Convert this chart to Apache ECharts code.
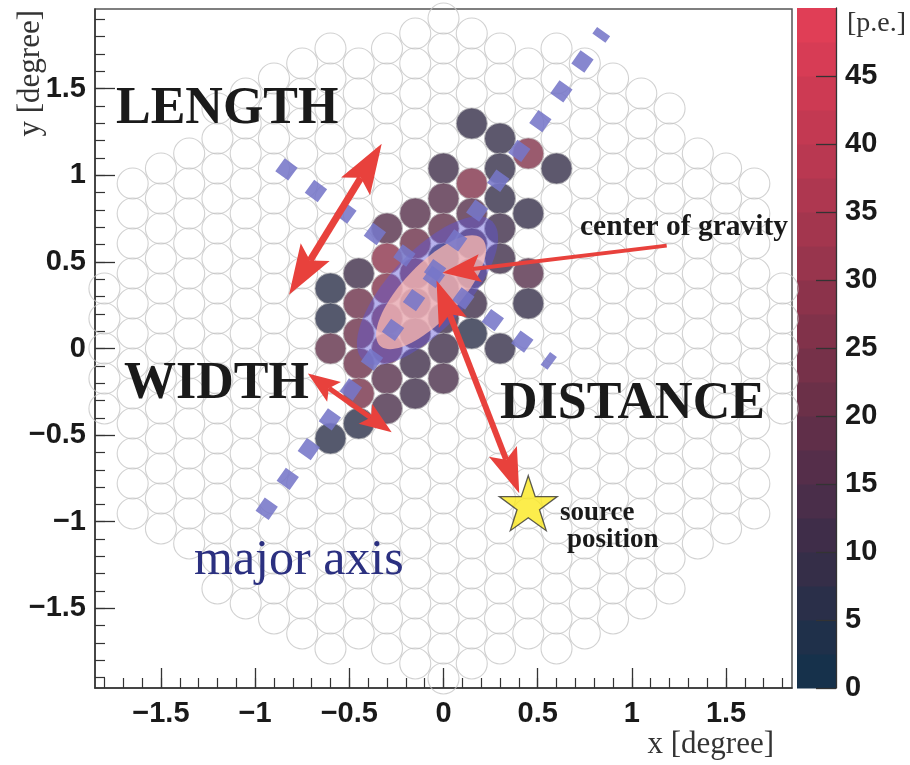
<!DOCTYPE html>
<html>
<head>
<meta charset="utf-8">
<script src="https://cdn.jsdelivr.net/npm/echarts@6/dist/echarts.min.js"></script>
<style>
html, body { margin: 0; padding: 0; background: #fff; }
#main { width: 910px; height: 765px; }
</style>
</head>
<body>
<div id="main"></div>
<script>
// camera geometry (pixel pitch in degree) and highest row of each column, column 0..12 (mirrored)
var pitchX = 0.15, pitchY = 0.1732;
var camColumnTop = [11, 10.5, 10, 9.5, 10, 9.5, 9, 8.5, 8, 6.5, 6, 5.5, 2];

// image pixels: column index, row index (pitch units), signal [p.e.]
var hitCol = [-4, -4, -4, -4,
              -3, -3, -3, -3, -3, -3,
              -2, -2, -2, -2, -2, -2, -2,
              -1, -1, -1, -1, -1, -1, -1,
               0, 0, 0, 0, 0, 0, 0, 0,
               1, 1, 1, 1, 1, 1, 1,
               2, 2, 2, 2, 2, 2,
               3, 3, 3, 3,
               4];
var hitRow = [2, 1, 0, -3,
              2.5, 1.5, 0.5, -0.5, -1.5, -2.5,
              4, 3, 2, 1, 0, -1, -2,
              4.5, 3.5, 2.5, 1.5, 0.5, -0.5, -1.5,
              6, 5, 4, 3, 2, 1, 0, -1,
              7.5, 5.5, 4.5, 3.5, 2.5, 1.5, 0.5,
              7, 6, 5, 4, 3, 0,
              6.5, 4.5, 2.5, 1.5,
              6];
var hitPe = [6, 6, 19, 6,
             12, 20, 22, 20, 23, 7,
             17, 29, 26, 24, 22, 15, 14,
             16, 22, 20, 18, 16, 12, 12,
             12, 15, 18, 6, 14, 12, 12, 13,
             9, 26, 16, 14, 10, 12, 5,
             9, 8, 8, 12, 12, 8,
             27, 8, 17, 8,
             8];

// axis ticks
var xMajor = [-1.5, -1, -0.5, 0, 0.5, 1, 1.5];
var xMinor = [-1.8, -1.7, -1.6, -1.5, -1.4, -1.3, -1.2, -1.1, -1, -0.9, -0.8, -0.7, -0.6, -0.5, -0.4, -0.3, -0.2, -0.1, 0,
              0.1, 0.2, 0.3, 0.4, 0.5, 0.6, 0.7, 0.8, 0.9, 1, 1.1, 1.2, 1.3, 1.4, 1.5, 1.6, 1.7, 1.8];
var yMajor = [-1.5, -1, -0.5, 0, 0.5, 1, 1.5];
var yMinor = [-1.9, -1.8, -1.7, -1.6, -1.5, -1.4, -1.3, -1.2, -1.1, -1, -0.9, -0.8, -0.7, -0.6, -0.5, -0.4, -0.3, -0.2, -0.1, 0,
              0.1, 0.2, 0.3, 0.4, 0.5, 0.6, 0.7, 0.8, 0.9, 1, 1.1, 1.2, 1.3, 1.4, 1.5, 1.6, 1.7, 1.8, 1.9];

// colour scale
var peBands = [0, 2.5, 5, 7.5, 10, 12.5, 15, 17.5, 20, 22.5, 25, 27.5, 30, 32.5, 35, 37.5, 40, 42.5, 45, 47.5, 50];
var paletteVal = [0, 5, 10, 15, 20, 25, 30, 35, 40, 45, 50];
var paletteCol = ['#11314b', '#243049', '#3a2d48', '#4f2e4a', '#652f48', '#7b3149',
                  '#92344c', '#a8364f', '#be3851', '#d23b54', '#e53f57'];

function hexRgb(h) {
    return [parseInt(h.substr(1, 2), 16), parseInt(h.substr(3, 2), 16), parseInt(h.substr(5, 2), 16)];
}
function paletteAt(v) {
    for (var j = 0; j < paletteVal.length - 1; j++) {
        if (v <= paletteVal[j + 1]) {
            var t = (v - paletteVal[j]) / (paletteVal[j + 1] - paletteVal[j]);
            var a = hexRgb(paletteCol[j]), b = hexRgb(paletteCol[j + 1]);
            return 'rgb(' + Math.round(a[0] + (b[0] - a[0]) * t) + ',' + Math.round(a[1] + (b[1] - a[1]) * t) + ',' + Math.round(a[2] + (b[2] - a[2]) * t) + ')';
        }
    }
    return paletteCol[paletteCol.length - 1];
}
function peColor(v) {
    var b = 0;
    while (b < peBands.length - 2 && v >= peBands[b + 1]) b++;
    return paletteAt((peBands[b] + peBands[b + 1]) / 2);
}

var camData = [];
for (var col = -12; col <= 12; col++) {
    var colTop = camColumnTop[Math.abs(col)];
    for (var row = -colTop; row <= colTop + 1e-6; row += 1) {
        camData.push([col * pitchX, row * pitchY]);
    }
}
var hitData = hitCol.map(function (c, i) {
    return [c * pitchX, hitRow[i] * pitchY, hitPe[i]];
});
var bandData = [];
for (var bi = 0; bi < peBands.length - 1; bi++) bandData.push([0, peBands[bi], peBands[bi + 1]]);

// hillas ellipse (outer halo + inner core), in degree
var ellipses = [
    {c: [-0.085, 0.334], e: [0.258, 0.734], ratio: 0.41, fill: 'rgba(95,85,215,0.45)'},
    {c: [-0.066, 0.325], e: [0.205, 0.634], ratio: 0.38, fill: 'rgba(255,188,175,0.74)'}
];
var majorAxis = [[-0.963, -0.963], [0.85, 1.83]];
var minorAxis = [[-0.868, 1.061], [0.577, -0.086]];
var sourcePos = [[0.450, -0.893]];

// red arrows
var arrows = [
    {from: [-0.328, 1.182], to: [-0.820, 0.311], both: true, w: 7, L: 50, H: 17},
    {from: [-0.720, -0.144], to: [-0.275, -0.484], both: true, w: 5, L: 32, H: 12},
    {from: [-0.037, 0.392], to: [0.402, -0.836], both: true, w: 6, L: 45, H: 15},
    {from: [1.185, 0.594], to: [-0.005, 0.438], both: false, w: 4, L: 38, H: 14}
];

var sansB = 'Liberation Sans';
var serif = 'Liberation Serif';
var axisCol = '#333';

function fmtTick(v) {
    return (v < 0 ? '\u2212' : '') + Math.abs(v);
}

function head(tip, ux, uy, L, H) {
    var nx = -uy, ny = ux;
    var bx = tip[0] - ux * L, by = tip[1] - uy * L;
    var kx = tip[0] - ux * L * 0.8, ky = tip[1] - uy * L * 0.8;
    return [[tip[0], tip[1]], [bx + nx * H, by + ny * H], [kx, ky], [bx - nx * H, by - ny * H]];
}

function txt(s, x, y, size, weight, color, align, extra) {
    var o = {
        type: 'text', x: x, y: y, z: 100, silent: true,
        style: {
            text: s, fontFamily: serif, fontSize: size, fontWeight: weight,
            fill: color, align: align || 'left', verticalAlign: 'middle'
        }
    };
    if (extra) for (var k in extra) o[k] = extra[k];
    return o;
}

var chart = echarts.init(document.getElementById('main'));

var dashStyle = {color: 'rgba(118,118,200,0.88)', width: 16, type: [16, 20.5], cap: 'butt'};

var option = {
    animation: false,
    backgroundColor: '#fff',
    grid: [
        {left: 95, top: 9, width: 697, height: 679, show: true, borderColor: '#555', borderWidth: 1.5, outerBoundsMode: 'none', containLabel: false},
        {left: 797, top: 8, width: 39, height: 680, show: false, outerBoundsMode: 'none', containLabel: false}
    ],
    xAxis: [
        {
            type: 'value', gridIndex: 0, min: -1.85, max: 1.85, position: 'bottom',
            axisLine: {show: true, onZero: false, lineStyle: {color: axisCol, width: 1.5}},
            axisTick: {show: true, inside: true, length: 20, customValues: xMajor, lineStyle: {color: axisCol, width: 1.3}},
            axisLabel: {customValues: xMajor, formatter: fmtTick, margin: 11, fontFamily: sansB, fontWeight: 'bold', fontSize: 29, color: '#1a1a1a'},
            splitLine: {show: false}
        },
        {
            type: 'value', gridIndex: 0, min: -1.85, max: 1.85, position: 'bottom',
            axisLine: {show: false, onZero: false},
            axisTick: {show: true, inside: true, length: 10, customValues: xMinor, lineStyle: {color: axisCol, width: 1.2}},
            axisLabel: {show: false}, splitLine: {show: false}
        },
        {type: 'value', gridIndex: 1, min: 0, max: 1, show: false}
    ],
    yAxis: [
        {
            type: 'value', gridIndex: 0, min: -1.96, max: 1.96, position: 'left',
            axisLine: {show: true, onZero: false, lineStyle: {color: axisCol, width: 1.5}},
            axisTick: {show: true, inside: true, length: 20, customValues: yMajor, lineStyle: {color: axisCol, width: 1.3}},
            axisLabel: {customValues: yMajor, formatter: fmtTick, margin: 9, fontFamily: sansB, fontWeight: 'bold', fontSize: 29, color: '#1a1a1a'},
            splitLine: {show: false}
        },
        {
            type: 'value', gridIndex: 0, min: -1.96, max: 1.96, position: 'left',
            axisLine: {show: false, onZero: false},
            axisTick: {show: true, inside: true, length: 10, customValues: yMinor, lineStyle: {color: axisCol, width: 1.2}},
            axisLabel: {show: false}, splitLine: {show: false}
        },
        {
            type: 'value', gridIndex: 1, min: 0, max: 50, interval: 5, position: 'right',
            axisLine: {show: true, onZero: false, lineStyle: {color: axisCol, width: 1.3}},
            axisTick: {show: true, inside: true, length: 20, lineStyle: {color: axisCol, width: 1.3}},
            axisLabel: {showMaxLabel: false, margin: 9, fontFamily: sansB, fontWeight: 'bold', fontSize: 29, color: '#1a1a1a'},
            splitLine: {show: false},
            z: 10
        }
    ],
    series: [
        {
            name: 'camera', type: 'scatter', xAxisIndex: 0, yAxisIndex: 0, z: 1, silent: true,
            symbol: 'circle', symbolSize: 31,
            itemStyle: {color: 'rgba(255,255,255,0)', borderColor: '#c6c6c6', borderWidth: 1.1},
            data: camData
        },
        {
            name: 'signal', type: 'scatter', xAxisIndex: 0, yAxisIndex: 0, z: 2, silent: true,
            symbol: 'circle', symbolSize: 31,
            itemStyle: {
                color: function (p) { return peColor(p.value[2]); },
                borderColor: '#cfcfcf', borderWidth: 0.8
            },
            data: hitData
        },
        {
            name: 'ellipse', type: 'custom', xAxisIndex: 0, yAxisIndex: 0, z: 3, silent: true,
            data: [[0, 0], [0, 0]],
            renderItem: function (params, api) {
                var el = ellipses[params.dataIndex];
                var c = api.coord(el.c), e = api.coord(el.e);
                var dx = e[0] - c[0], dy = e[1] - c[1];
                var a = Math.sqrt(dx * dx + dy * dy), bb = a * el.ratio;
                var ux = dx / a, uy = dy / a;
                var pts = [];
                for (var t = 0; t < 90; t++) {
                    var ang = t / 90 * 2 * Math.PI;
                    var ca = Math.cos(ang) * a, sb = Math.sin(ang) * bb;
                    pts.push([c[0] + ux * ca - uy * sb, c[1] + uy * ca + ux * sb]);
                }
                return {type: 'polygon', shape: {points: pts}, style: {fill: el.fill}};
            }
        },
        {
            name: 'major axis', type: 'line', xAxisIndex: 0, yAxisIndex: 0, z: 4, silent: true,
            symbol: 'none', data: majorAxis, lineStyle: dashStyle
        },
        {
            name: 'minor axis', type: 'line', xAxisIndex: 0, yAxisIndex: 0, z: 4, silent: true,
            symbol: 'none', data: minorAxis, lineStyle: dashStyle
        },
        {
            name: 'arrows', type: 'custom', xAxisIndex: 0, yAxisIndex: 0, z: 5, silent: true,
            data: arrows.map(function () { return [0, 0]; }),
            renderItem: function (params, api) {
                var ar = arrows[params.dataIndex];
                var p0 = api.coord(ar.from), p1 = api.coord(ar.to);
                var dx = p1[0] - p0[0], dy = p1[1] - p0[1];
                var len = Math.sqrt(dx * dx + dy * dy);
                var ux = dx / len, uy = dy / len;
                var s1 = [p1[0] - ux * ar.L * 0.8, p1[1] - uy * ar.L * 0.8];
                var s0 = ar.both ? [p0[0] + ux * ar.L * 0.8, p0[1] + uy * ar.L * 0.8] : p0;
                var red = '#e8413c';
                var kids = [
                    {type: 'line', shape: {x1: s0[0], y1: s0[1], x2: s1[0], y2: s1[1]}, style: {stroke: red, lineWidth: ar.w}},
                    {type: 'polygon', shape: {points: head(p1, ux, uy, ar.L, ar.H)}, style: {fill: red}}
                ];
                if (ar.both) kids.push({type: 'polygon', shape: {points: head(p0, -ux, -uy, ar.L, ar.H)}, style: {fill: red}});
                return {type: 'group', children: kids};
            }
        },
        {
            name: 'source', type: 'scatter', xAxisIndex: 0, yAxisIndex: 0, z: 6, silent: true,
            symbol: 'path://M50,0 L61.8,35.3 L99,35.3 L69,57.3 L80.3,92.7 L50,70.8 L19.7,92.7 L31,57.3 L1,35.3 L38.2,35.3 Z',
            symbolSize: [58, 55],
            itemStyle: {color: '#fbe81f', borderColor: '#333', borderWidth: 1.3},
            data: sourcePos
        },
        {
            name: 'palette', type: 'custom', xAxisIndex: 2, yAxisIndex: 2, z: 1, silent: true,
            encode: {x: 0, y: [1, 2]},
            data: bandData,
            renderItem: function (params, api) {
                var lo = api.value(1), hi = api.value(2);
                var a = api.coord([0, hi]), b2 = api.coord([1, lo]);
                return {
                    type: 'rect',
                    shape: {x: a[0], y: a[1], width: b2[0] - a[0], height: b2[1] - a[1] + 0.5},
                    style: {fill: peColor((lo + hi) / 2)}
                };
            }
        }
    ],
    graphic: [
        txt('LENGTH', 116, 110, 52, 'bold', '#1a1a1a'),
        txt('WIDTH', 124, 385, 52, 'bold', '#1a1a1a'),
        txt('DISTANCE', 500, 405, 52, 'bold', '#1a1a1a'),
        txt('center of gravity', 580, 227, 29.5, 'bold', '#1a1a1a'),
        txt('source', 560, 513, 27, 'bold', '#1a1a1a'),
        txt('position', 567, 540, 27, 'bold', '#1a1a1a'),
        txt('major axis', 194, 561, 50, 'normal', '#2b3080'),
        txt('x [degree]', 774, 745, 31, 'normal', '#333', 'right'),
        txt('y [degree]', 31, 10, 31, 'normal', '#333', 'right', {rotation: Math.PI / 2}),
        txt('[p.e.]', 847, 24, 28, 'normal', '#333')
    ]
};

chart.setOption(option);
</script>
</body>
</html>
